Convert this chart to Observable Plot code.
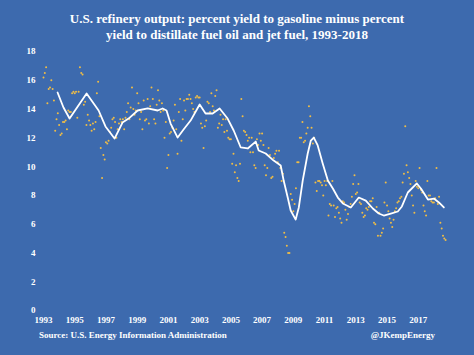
<!DOCTYPE html>
<html>
<head>
<meta charset="utf-8">
<script src="https://cdn.jsdelivr.net/npm/d3@7"></script>
<script src="https://cdn.jsdelivr.net/npm/@observablehq/plot@0.6"></script>
<style>
  html, body { margin: 0; padding: 0; background: #3d6aae; }
  #wrap { position: relative; width: 474px; height: 355px; background: #3d6aae; overflow: hidden;
          font-family: "Liberation Serif", "DejaVu Serif", serif; color: #fff; font-weight: bold; }
  #title { position: absolute; top: 11px; left: 0; width: 474px; text-align: center;
           font-size: 13px; line-height: 16px; }
  #chart { position: absolute; top: 40px; left: 0; }
  #src { position: absolute; top: 330px; left: 39px; font-size: 9px; }
  #handle { position: absolute; top: 330px; right: 39px; font-size: 9px; }
</style>
</head>
<body>
<div id="wrap">
  <div id="title">U.S. refinery output: percent yield to gasoline minus percent<br>yield to distillate fuel oil and jet fuel, 1993-2018</div>
  <div id="chart"></div>
  <div id="src">Source: U.S. Energy Information Administration</div>
  <div id="handle">@JKempEnergy</div>
</div>
<script>
// Monthly gasoline yield minus distillate+jet yield (percentage points), by year
const years = [1993,1994,1995,1996,1997,1998,1999,2000,2001,2002,2003,2004,2005,2006,2007,2008,2009,2010,2011,2012,2013,2014,2015,2016,2017,2018];
const monthlyByYear = [
  [16.2,16.5,16.9,14.4,15.4,15.5,16.0,15.4,14.6,12.5,13.3,13.7],
  [12.9,12.2,12.3,13.1,13.1,13.2,12.6,13.9,13.8,13.8,15.1,15.2],
  [15.1,15.2,13.4,15.2,16.9,16.5,16.4,14.3,14.5,12.9,13.6,13.2],
  [12.9,12.5,13.0,12.6,13.1,15.1,15.9,13.5,11.3,9.2,10.8,10.5],
  [11.7,11.6,11.8,12.4,12.7,13.3,13.4,13.1,12.0,12.6,13.0,13.3],
  [13.1,13.3,12.6,13.4,13.8,14.4,13.3,14.1,15.5,14.0,13.6,13.9],
  [15.1,14.4,13.3,13.8,12.6,14.6,13.2,13.3,14.7,13.0,14.2,15.5],
  [14.7,13.3,13.0,14.3,15.3,14.6,13.8,14.4,13.9,12.0,13.1,9.9],
  [10.8,12.3,12.4,12.7,13.2,14.3,12.6,10.9,13.8,14.7,11.8,13.3],
  [14.6,13.9,14.7,14.7,15.0,14.7,14.4,14.0,13.8,14.8,14.9,14.8],
  [14.8,13.0,12.7,11.3,12.8,13.2,14.5,14.4,13.8,15.1,14.2,13.9],
  [14.9,15.3,12.7,13.0,13.6,12.9,13.3,12.4,13.3,12.5,12.0,11.9],
  [11.9,10.2,10.9,9.6,10.1,9.2,9.0,10.2,14.7,13.5,12.5,12.4],
  [12.2,11.8,12.0,11.0,12.0,11.0,10.1,9.9,11.9,11.5,12.3,11.8],
  [12.3,11.5,10.1,9.4,9.9,11.3,10.8,9.2,9.3,10.6,10.9,11.1],
  [10.3,11.1,9.9,9.0,9.5,5.4,5.1,4.5,4.0,4.0,8.1,7.7],
  [6.9,7.4,8.5,10.3,10.3,12.0,12.0,13.1,11.7,11.8,12.3,12.7],
  [14.2,13.5,12.7,11.6,12.0,8.9,8.3,9.0,9.0,8.9,8.7,8.0],
  [9.0,8.7,9.0,6.6,7.4,7.3,9.0,7.3,6.5,7.1,7.2,6.8],
  [6.4,6.1,7.6,7.5,7.0,6.3,6.7,7.2,7.4,7.9,8.8,9.4],
  [8.1,8.2,8.8,7.5,7.4,6.8,6.5,6.6,7.1,7.0,7.2,7.6],
  [7.6,7.8,6.1,6.0,7.2,5.2,6.8,5.2,5.4,5.7,7.5,8.9],
  [7.3,6.9,6.4,6.1,5.8,6.3,6.9,7.1,7.5,7.6,7.8,7.9],
  [8.9,9.5,12.8,10.1,9.6,9.2,8.8,8.0,7.3,6.8,9.0,8.6],
  [8.5,9.9,8.4,8.2,7.3,6.9,6.6,9.0,8.0,8.0,7.6,7.5],
  [7.5,7.8,9.9,7.4,7.9,6.1,5.7,5.2,5.0,4.9]
];
// 12-month moving average (white line)
const avgTime = [1993.90,1994.28,1994.67,1995.76,1996.53,1996.97,1997.55,1998.06,1998.45,1999.03,1999.67,2000.31,2000.63,2000.88,2001.14,2001.59,2001.97,2002.42,2003.0,2003.38,2003.83,2004.28,2004.79,2005.18,2005.63,2006.08,2006.59,2006.78,2007.23,2007.74,2008.19,2008.38,2008.64,2008.83,2009.15,2009.35,2009.60,2009.92,2010.12,2010.31,2010.56,2010.88,2011.21,2011.53,2011.85,2012.17,2012.68,2013.19,2013.64,2014.09,2014.47,2014.79,2015.24,2015.69,2015.95,2016.33,2016.91,2017.17,2017.62,2018.0,2018.32,2018.64];
const avgValue = [15.15,14.11,13.34,15.08,13.90,12.79,11.95,13.06,13.34,13.90,14.04,13.90,14.04,13.90,12.99,12.02,12.58,13.20,14.32,13.69,13.69,14.04,13.34,12.51,11.33,11.26,11.74,11.12,10.91,10.42,10.08,9.03,7.85,6.95,6.32,7.16,9.03,10.91,11.81,12.02,11.47,10.22,9.03,8.48,7.85,7.44,7.16,7.85,7.64,7.09,6.74,6.60,6.74,6.88,7.23,8.20,8.83,8.48,7.71,7.78,7.51,7.16];
const xTicks = [1993,1995,1997,1999,2001,2003,2005,2007,2009,2011,2013,2015,2017];
const yTicks = [0,2,4,6,8,10,12,14,16,18];

const dots = [];
years.forEach((yr, i) => monthlyByYear[i].forEach((v, m) => dots.push({t: yr + m / 12, v})));
const avg = avgTime.map((t, i) => ({t, v: avgValue[i]}));

const chart = Plot.plot({
  width: 474, height: 290,
  marginLeft: 43, marginRight: 25, marginTop: 11, marginBottom: 20,
  style: {background: "transparent", color: "#fff", fontFamily: "Liberation Serif, DejaVu Serif, serif", fontWeight: "bold", fontSize: "9px"},
  x: {domain: [1993, 2019]},
  y: {domain: [0, 18]},
  marks: [
    Plot.axisX({ticks: xTicks, tickFormat: d => String(d), tickSize: 0, tickPadding: 6, label: null}),
    Plot.axisY({ticks: yTicks, tickSize: 0, tickPadding: 8, label: null}),
    Plot.dot(dots, {x: "t", y: "v", r: 1, fill: "#f0bd45", stroke: null}),
    Plot.line(avg, {x: "t", y: "v", stroke: "#fff", strokeWidth: 1.8})
  ]
});
document.getElementById("chart").appendChild(chart);
</script>
</body>
</html>
